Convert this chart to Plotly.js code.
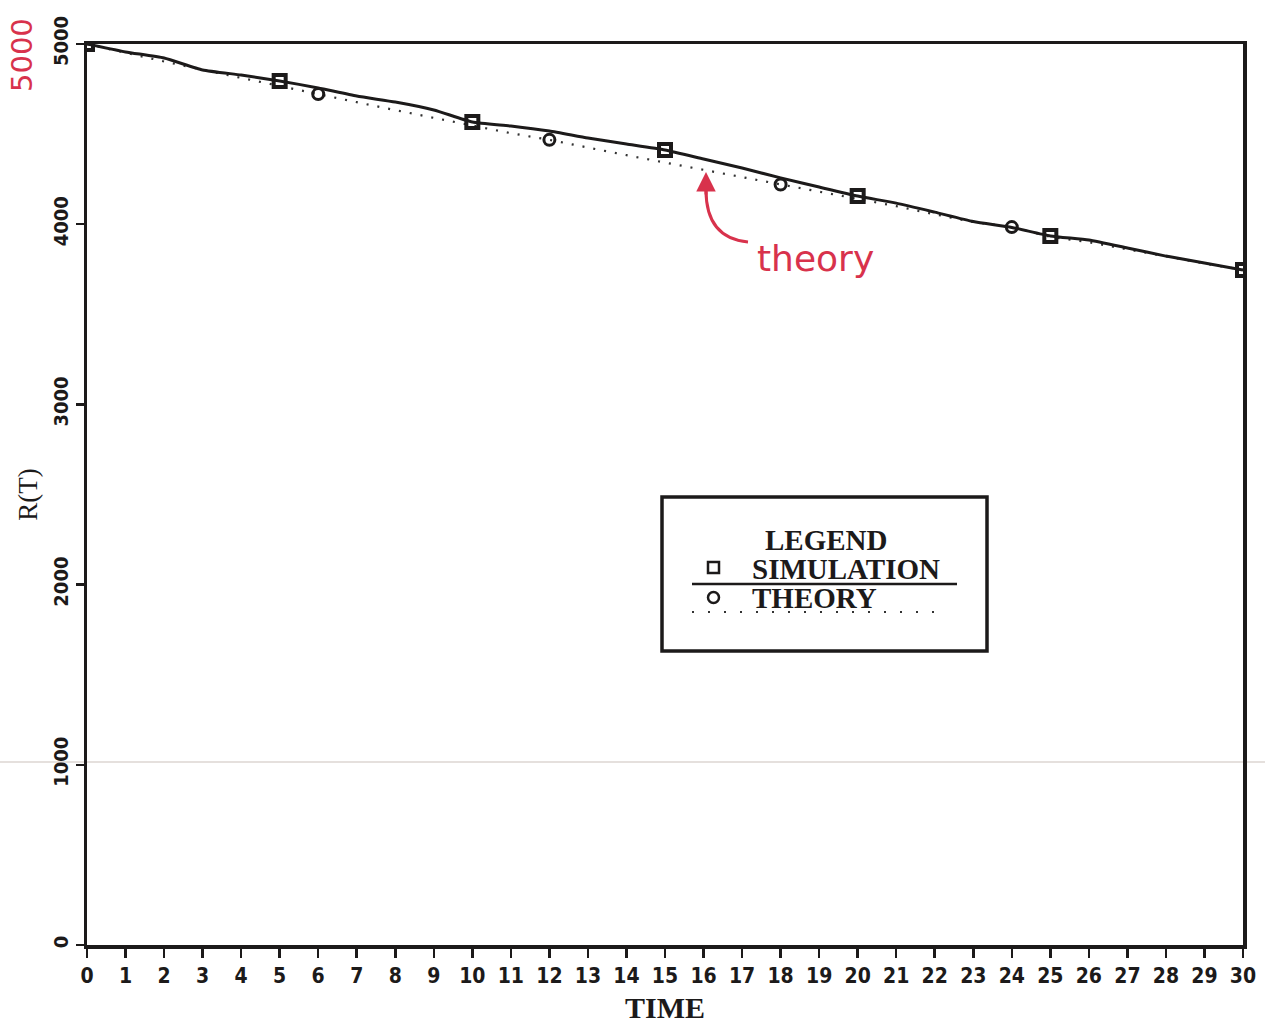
<!DOCTYPE html>
<html><head><meta charset="utf-8">
<script src="https://cdn.plot.ly/plotly-3.0.1.min.js"></script>
<style>html,body{margin:0;padding:0;background:#fff}#chart{width:1265px;height:1024px}</style>
</head><body><div id="chart"></div>
<script>
// ---- data ----
const time = [0,1,2,3,4,5,6,7,8,9,10,11,12,13,14,15,16,17,18,19,20,21,22,23,24,25,26,27,28,29,30];
const simulation = [5000,4956,4922,4856,4828,4795,4756,4711,4678,4634,4567,4545,4517,4478,4445,4412,4362,4312,4257,4206,4156,4117,4067,4015,3982,3935,3912,3868,3823,3785,3746];
const theory = [5000,4950,4903,4857,4811,4766,4722,4677,4633,4590,4548,4505,4468,4424,4383,4342,4302,4262,4220,4182,4144,4100,4055,4012,3984,3930,3900,3860,3818,3782,3746];
const simMarkerTimes = [0,5,10,15,20,25,30];
const theoryMarkerTimes = [6,12,18,24];
const xTickLabels = time.map(String);
const yTickValues = [0,1000,2000,3000,4000,5000];
const yTickLabels = ['0','1000','2000','3000','4000','5000'];

const INK = '#1c1a1a';
const RED = '#d8324c';
const L = 87, R = 1243, T = 44, B = 945;
const px = x => (x - L) / (R - L);
const py = y => (B - y) / (B - T);

const simMarkY = simMarkerTimes.map(t => simulation[time.indexOf(t)]);
const theoryMarkY = theoryMarkerTimes.map(t => theory[time.indexOf(t)]);

const traces = [
  {x: time, y: theory, mode: 'lines', line: {color: '#333', width: 2.2, dash: '2px,9px'}, hoverinfo: 'skip', showlegend: false},
  {x: time, y: simulation, mode: 'lines', line: {color: INK, width: 3, shape: 'spline', smoothing: 0.5}, showlegend: false},
  {x: simMarkerTimes, y: simMarkY, mode: 'markers', marker: {symbol: 'square-open', size: 12, color: INK, line: {width: 4, color: INK}}, showlegend: false},
  {x: theoryMarkerTimes, y: theoryMarkY, mode: 'markers', marker: {symbol: 'circle-open', size: 11, color: INK, line: {width: 3, color: INK}}, showlegend: false}
];

const serif = 'Liberation Serif, DejaVu Serif, serif';
const heavy = 'DejaVu Sans Condensed, DejaVu Sans, sans-serif';

const layout = {
  width: 1265, height: 1024,
  margin: {l: L, r: 1265 - R, t: T, b: 1024 - B},
  paper_bgcolor: '#ffffff', plot_bgcolor: '#ffffff',
  showlegend: false,
  xaxis: {
    range: [0, 30], tickvals: time, ticktext: xTickLabels,
    ticks: 'outside', ticklen: 9, tickwidth: 2.5, tickcolor: INK,
    showline: true, linewidth: 3.5, linecolor: INK, mirror: true,
    showgrid: false, zeroline: false,
    tickfont: {family: heavy, size: 21, color: INK, weight: 'bold'},
    title: {text: 'TIME', font: {family: serif, size: 30, color: INK, weight: 'bold'}, standoff: 12}
  },
  yaxis: {
    range: [0, 5000], tickvals: yTickValues, ticktext: yTickLabels, tickangle: -90,
    ticks: 'outside', ticklen: 8, tickwidth: 2.5, tickcolor: INK,
    showline: true, linewidth: 3.5, linecolor: INK, mirror: true,
    showgrid: false, zeroline: false,
    tickfont: {family: heavy, size: 20, color: INK, weight: 'bold'},
    title: {text: 'R(T)', font: {family: serif, size: 27, color: INK}, standoff: 4}
  },
  shapes: [
    {type: 'line', xref: 'paper', yref: 'paper', x0: -0.08, x1: 1.02, y0: py(762), y1: py(762), line: {color: '#dcd6d2', width: 1.5}, layer: 'below'},
    {type: 'rect', xref: 'paper', yref: 'paper', x0: px(662), x1: px(987), y0: py(651), y1: py(497), line: {color: INK, width: 3.5}, fillcolor: 'rgba(0,0,0,0)'},
    {type: 'line', xref: 'paper', yref: 'paper', x0: px(692), x1: px(957), y0: py(584), y1: py(584), line: {color: INK, width: 2.5}},
    {type: 'line', xref: 'paper', yref: 'paper', x0: px(692), x1: px(935), y0: py(612), y1: py(612), line: {color: '#333', width: 2, dash: '2px,14px'}},
    {type: 'rect', xref: 'paper', yref: 'paper', x0: px(708), x1: px(719), y0: py(573), y1: py(562), line: {color: INK, width: 2.5}},
    {type: 'circle', xref: 'paper', yref: 'paper', x0: px(708), x1: px(719), y0: py(603), y1: py(592), line: {color: INK, width: 2.5}},
    {type: 'path', xref: 'paper', yref: 'paper',
     path: 'M ' + px(706) + ',' + py(190) + ' Q ' + px(706) + ',' + py(238) + ' ' + px(748) + ',' + py(242),
     line: {color: RED, width: 3}}
  ],
  annotations: [
    {xref: 'paper', yref: 'paper', x: px(826), y: py(540), text: 'LEGEND', showarrow: false, xanchor: 'center', yanchor: 'middle', font: {family: serif, size: 29, color: INK, weight: 'bold'}},
    {xref: 'paper', yref: 'paper', x: px(750), y: py(569), text: 'SIMULATION', showarrow: false, xanchor: 'left', yanchor: 'middle', font: {family: serif, size: 29, color: INK, weight: 'bold'}},
    {xref: 'paper', yref: 'paper', x: px(750), y: py(598), text: 'THEORY', showarrow: false, xanchor: 'left', yanchor: 'middle', font: {family: serif, size: 29, color: INK, weight: 'bold'}},
    {xref: 'paper', yref: 'paper', x: px(816), y: py(258), text: 'theory', showarrow: false, xanchor: 'center', yanchor: 'middle', font: {family: 'DejaVu Sans, sans-serif', size: 36, color: RED}},
    {xref: 'paper', yref: 'paper', x: px(22), y: py(55), text: '5000', showarrow: false, textangle: -90, xanchor: 'center', yanchor: 'middle', font: {family: 'DejaVu Sans, sans-serif', size: 29, color: RED}},
    {xref: 'paper', yref: 'paper', x: px(706), y: py(172), text: '', showarrow: true, ax: 0, ay: 24, arrowhead: 2, arrowsize: 1.3, arrowwidth: 3, arrowcolor: RED}
  ]
};

Plotly.newPlot('chart', traces, layout, {staticPlot: true, displayModeBar: false});
</script>
</body></html>
